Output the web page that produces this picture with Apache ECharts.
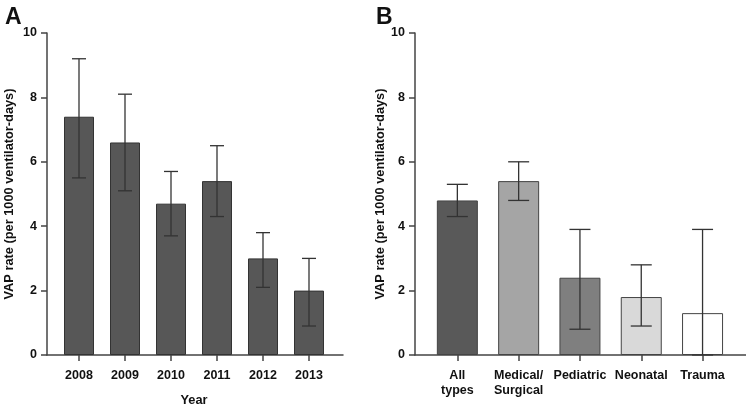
<!DOCTYPE html>
<html><head><meta charset="utf-8">
<script src="https://cdn.jsdelivr.net/npm/echarts@6/dist/echarts.min.js"></script>
<style>html,body{margin:0;padding:0;background:#fff}#c{width:746px;height:405px}</style>
</head><body><div id="c"></div>
<script>
const yearCats = ['2008','2009','2010','2011','2012','2013'];
const yearRate = [7.4, 6.6, 4.7, 5.4, 3.0, 2.0];
const yearLow  = [5.5, 5.1, 3.7, 4.3, 2.1, 0.9];
const yearHigh = [9.2, 8.1, 5.7, 6.5, 3.8, 3.0];

const typeCats = ['All\ntypes', 'Medical/\nSurgical', 'Pediatric', 'Neonatal', 'Trauma'];
const typeRate = [4.8, 5.4, 2.4, 1.8, 1.3];
const typeLow  = [4.3, 4.8, 0.8, 0.9, 0.0];
const typeHigh = [5.3, 6.0, 3.9, 2.8, 3.9];
const typeColors = ['#595959', '#a5a5a5', '#7f7f7f', '#d9d9d9', '#ffffff'];

const yTicks = [0, 2, 4, 6, 8, 10];

const FONT = 'Liberation Sans, Arial, sans-serif';
const AX = '#444';

function errItem(cap) {
  return function (params, api) {
    const x = api.value(0), lo = api.value(1), hi = api.value(2);
    const pLo = api.coord([x, lo]);
    const pHi = api.coord([x, hi]);
    const st = { stroke: '#333', lineWidth: 1.3 };
    return { type: 'group', children: [
      { type: 'line', shape: { x1: pLo[0], y1: pLo[1], x2: pHi[0], y2: pHi[1] }, style: st },
      { type: 'line', shape: { x1: pHi[0] - cap / 2, y1: pHi[1], x2: pHi[0] + cap / 2, y2: pHi[1] }, style: st },
      { type: 'line', shape: { x1: pLo[0] - cap / 2, y1: pLo[1], x2: pLo[0] + cap / 2, y2: pLo[1] }, style: st }
    ]};
  };
}

function frameY(gridIndex, gap) {
  return {
    type: 'value', gridIndex, min: 0, max: 10, interval: 2,
    axisLine: { show: true, lineStyle: { color: AX, width: 1.5 } },
    axisTick: { show: true, length: 6, lineStyle: { color: AX, width: 1.5 } },
    splitLine: { show: false },
    axisLabel: { margin: 10, fontFamily: FONT, fontWeight: 'bold', fontSize: 12.5, color: '#111',
      formatter: v => yTicks.includes(v) ? String(v) : '' },
    name: 'VAP rate (per 1000 ventilator-days)', nameLocation: 'middle', nameGap: gap,
    nameTextStyle: { fontFamily: FONT, fontWeight: 'bold', fontSize: 12.8, color: '#111' }
  };
}
function frameX(gridIndex) {
  return {
    type: 'value', gridIndex, min: 0, max: 1,
    axisLine: { show: true, onZero: false, lineStyle: { color: AX, width: 1.5 } },
    axisTick: { show: false }, axisLabel: { show: false }, splitLine: { show: false }
  };
}
function hiddenY(gridIndex) {
  return { type: 'value', gridIndex, min: 0, max: 10, show: false };
}
function catX(gridIndex, cats, extra) {
  return Object.assign({
    type: 'category', gridIndex, data: cats,
    axisLine: { show: false },
    axisTick: { show: true, alignWithLabel: true, length: 6, lineStyle: { color: AX, width: 1.5 } },
    axisLabel: { margin: 13, fontFamily: FONT, fontWeight: 'bold', fontSize: 12.5, color: '#111', lineHeight: 15, interval: 0 }
  }, extra || {});
}

const G = { top: 33, height: 322, outerBoundsMode: 'none', containLabel: false };
const option = {
  animation: false,
  backgroundColor: '#fff',
  title: [
    { text: 'A', left: 0, top: 1, textStyle: { fontFamily: FONT, fontWeight: 'bold', fontSize: 23, color: '#111' } },
    { text: 'B', left: 371, top: 1, textStyle: { fontFamily: FONT, fontWeight: 'bold', fontSize: 23, color: '#111' } }
  ],
  grid: [
    Object.assign({ left: 47, width: 296 }, G),
    Object.assign({ left: 56, width: 276 }, G),
    Object.assign({ left: 415, width: 331 }, G),
    Object.assign({ left: 426.7, width: 306.5 }, G)
  ],
  xAxis: [
    frameX(0),
    catX(1, yearCats, { name: 'Year', nameLocation: 'middle', nameGap: 39,
      nameTextStyle: { fontFamily: FONT, fontWeight: 'bold', fontSize: 12.8, color: '#111' } }),
    frameX(2),
    catX(3, typeCats)
  ],
  yAxis: [ frameY(0, 31), hiddenY(1), frameY(2, 28), hiddenY(3) ],
  series: [
    { type: 'bar', xAxisIndex: 1, yAxisIndex: 1, data: yearRate, barWidth: 30,
      itemStyle: { color: '#575757', borderColor: '#333', borderWidth: 1 } },
    { type: 'custom', xAxisIndex: 1, yAxisIndex: 1, renderItem: errItem(14), z: 5,
      data: yearCats.map((c, i) => [i, yearLow[i], yearHigh[i]]) },
    { type: 'bar', xAxisIndex: 3, yAxisIndex: 3, barWidth: 41,
      data: typeRate.map((v, i) => ({ value: v, itemStyle: { color: typeColors[i] } })),
      itemStyle: { borderColor: '#444', borderWidth: 1 } },
    { type: 'custom', xAxisIndex: 3, yAxisIndex: 3, renderItem: errItem(21), z: 5,
      data: typeCats.map((c, i) => [i, typeLow[i], typeHigh[i]]) }
  ]
};
const chart = echarts.init(document.getElementById('c'), null, { renderer: 'canvas' });
chart.setOption(option);
</script></body></html>
